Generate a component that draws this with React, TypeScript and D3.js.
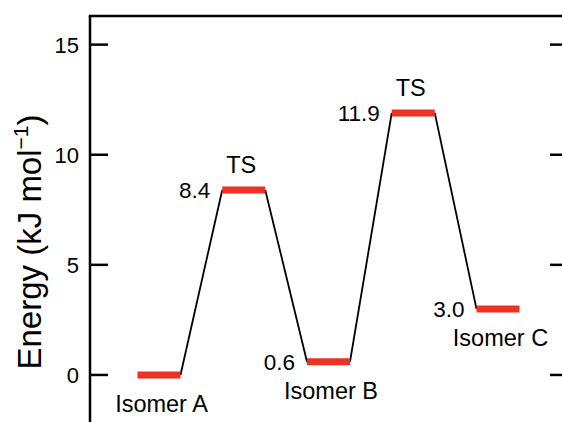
import React from "react";
import * as d3 from "d3";

// Reaction coordinate states and their relative energies (kJ/mol)
const states = ["Isomer A", "TS1", "Isomer B", "TS2", "Isomer C"];
const energies = [0, 8.4, 0.6, 11.9, 3.0];
const valueLabels = ["", "8.4", "0.6", "11.9", "3.0"];
const nameLabels = ["Isomer A", "TS", "Isomer B", "TS", "Isomer C"];
const yTicks = [0, 5, 10, 15];

const W = 562;
const H = 422;
const left = 90;
const right = 568;
const top = 16;
const FONT = "'Liberation Sans', Arial, Helvetica, sans-serif";

export default function App() {
  const y = d3.scaleLinear().domain([-2.2, 16.3]).range([H + 1.4, top]);
  const x = d3.scalePoint<string>().domain(states).range([159, 498]);
  const half = 21.5;

  const isTS = (i: number) => states[i].startsWith("TS");

  const connectors = d3.pairs(states.map((s, i) => ({ s, e: energies[i] })));
  const line = d3.line<[number, number]>();

  return (
    <svg
      width={W}
      height={H}
      style={{ position: "absolute", left: 0, top: 0, background: "#fff" }}
      fontFamily={FONT}
    >
      {/* frame: left spine, top border, right spine */}
      <line x1={left} x2={left} y1={top} y2={H + 5} stroke="#000" strokeWidth={2.5} />
      <line x1={left - 1.25} x2={right} y1={top} y2={top} stroke="#000" strokeWidth={2.5} />
      <line x1={right} x2={right} y1={top} y2={H + 5} stroke="#000" strokeWidth={2.5} />

      {/* inward ticks on both sides */}
      {yTicks.map((t) => (
        <g key={t}>
          <line x1={left} x2={left + 18} y1={y(t)} y2={y(t)} stroke="#000" strokeWidth={2.5} />
          <line x1={right - 18} x2={right} y1={y(t)} y2={y(t)} stroke="#000" strokeWidth={2.5} />
          <text
            x={left - 11}
            y={y(t)}
            dy="0.36em"
            textAnchor="end"
            fontSize={22}
            fill="#000"
          >
            {t}
          </text>
        </g>
      ))}

      {/* axis title */}
      <text
        transform={`translate(41, 242) rotate(-90)`}
        textAnchor="middle"
        fontSize={33}
        fill="#000"
      >
        Energy (kJ mol
        <tspan fontSize={21} dy={-13}>−1</tspan>
        <tspan dy={13}>)</tspan>
      </text>

      {/* connectors between levels */}
      {connectors.map(([a, b], i) => (
        <path
          key={i}
          d={line([
            [(x(a.s) as number) + half, y(a.e)],
            [(x(b.s) as number) - half, y(b.e)],
          ]) as string}
          stroke="#000"
          strokeWidth={1.8}
          fill="none"
        />
      ))}

      {/* energy levels */}
      {states.map((s, i) => (
        <line
          key={s}
          x1={(x(s) as number) - half}
          x2={(x(s) as number) + half}
          y1={y(energies[i])}
          y2={y(energies[i])}
          stroke="#ee3124"
          strokeWidth={7}
        />
      ))}

      {/* value labels */}
      {states.map((s, i) =>
        valueLabels[i] ? (
          <text
            key={"v" + s}
            x={(x(s) as number) - half - 12}
            y={y(energies[i]) + 8}
            textAnchor="end"
            fontSize={22.5}
            fill="#000"
          >
            {valueLabels[i]}
          </text>
        ) : null
      )}

      {/* state names */}
      {states.map((s, i) => (
        <text
          key={"n" + s}
          x={(x(s) as number) + (isTS(i) ? -2.5 : 2.5)}
          y={isTS(i) ? y(energies[i]) - 17 : y(energies[i]) + 37}
          textAnchor="middle"
          fontSize={23.5}
          fill="#000"
        >
          {nameLabels[i]}
        </text>
      ))}
    </svg>
  );
}
